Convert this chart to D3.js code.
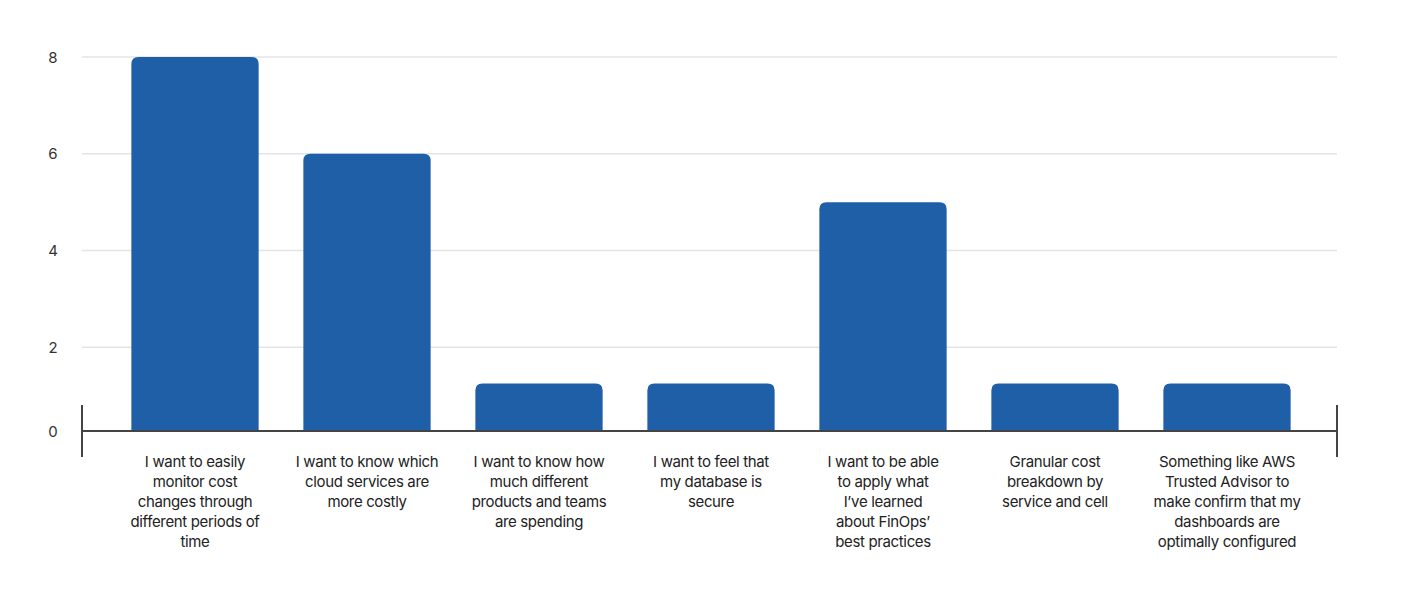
<!DOCTYPE html>
<html>
<head>
<meta charset="utf-8">
<script src="https://cdn.jsdelivr.net/npm/d3@7"></script>
<style>
  body { margin: 0; background: #fff; }
  svg { display: block; font-family: Inter, 'Noto Sans', sans-serif; }
</style>
</head>
<body>
<svg width="1406" height="595" viewBox="0 0 1406 595"></svg>
<script>
const categories = [
  ['I want to easily', 'monitor cost', 'changes through', 'different periods of', 'time'],
  ['I want to know which', 'cloud services are', 'more costly'],
  ['I want to know how', 'much different', 'products and teams', 'are spending'],
  ['I want to feel that', 'my database is', 'secure'],
  ['I want to be able', 'to apply what', 'I\u2019ve learned', 'about FinOps\u2019', 'best practices'],
  ['Granular cost', 'breakdown by', 'service and cell'],
  ['Something like AWS', 'Trusted Advisor to', 'make confirm that my', 'dashboards are', 'optimally configured']
]
const values = [8, 6, 1.25, 1.25, 5, 1.25, 1.25]
const yTicks = [2, 4, 6, 8]

const svg = d3.select('svg')
const color = '#1e5fa8'
const left = 82
const right = 1337
const baseY = 431

const x = d3.scaleBand()
  .domain(d3.range(categories.length))
  .range([109, 1313])
  .paddingInner(0.26)
  .paddingOuter(0.13)

const y = d3.scaleLinear()
  .domain([0, 8])
  .range([444, 57])

// gridlines
svg.append('g')
  .selectAll('line')
  .data(yTicks)
  .join('line')
  .attr('x1', left)
  .attr('x2', right)
  .attr('y1', d => y(d))
  .attr('y2', d => y(d))
  .attr('stroke', '#e4e4e8')
  .attr('stroke-width', 1.5)

// y labels
svg.append('g')
  .selectAll('text')
  .data(yTicks)
  .join('text')
  .attr('x', 53)
  .attr('y', d => y(d))
  .attr('text-anchor', 'middle')
  .attr('dominant-baseline', 'central')
  .attr('font-size', 15)
  .attr('fill', '#333')
  .text(d => d)

svg.append('text')
  .attr('x', 53)
  .attr('y', baseY)
  .attr('text-anchor', 'middle')
  .attr('dominant-baseline', 'central')
  .attr('font-size', 15)
  .attr('fill', '#333')
  .text('0')

// bars with rounded top corners
const r = 7
const barPath = (d, i) => {
  const x0 = x(i)
  const x1 = x0 + x.bandwidth()
  const top = y(d)
  return `M${x0},${baseY}V${top + r}Q${x0},${top} ${x0 + r},${top}H${x1 - r}Q${x1},${top} ${x1},${top + r}V${baseY}Z`
}

svg.append('g')
  .selectAll('path')
  .data(values)
  .join('path')
  .attr('d', barPath)
  .attr('fill', color)

// baseline axis
const axisG = svg.append('g').attr('stroke', '#444').attr('stroke-width', 2)
axisG.append('line')
  .attr('x1', left).attr('x2', right)
  .attr('y1', baseY).attr('y2', baseY)
axisG.selectAll('line.edge')
  .data([left, right])
  .join('line')
  .attr('class', 'edge')
  .attr('x1', d => d).attr('x2', d => d)
  .attr('y1', 405).attr('y2', 457)

// category labels
const labels = svg.append('g')
  .selectAll('text')
  .data(categories)
  .join('text')
  .attr('x', (d, i) => x(i) + x.bandwidth() / 2)
  .attr('y', baseY + 30)
  .attr('text-anchor', 'middle')
  .attr('font-size', 15)
  .attr('letter-spacing', -0.35)
  .attr('fill', '#222')

labels.selectAll('tspan')
  .data(d => d)
  .join('tspan')
  .attr('x', function () { return this.parentNode.getAttribute('x') })
  .attr('dy', (d, i) => i === 0 ? 0 : 20)
  .attr('dominant-baseline', 'central')
  .text(d => d)
</script>
</body>
</html>
